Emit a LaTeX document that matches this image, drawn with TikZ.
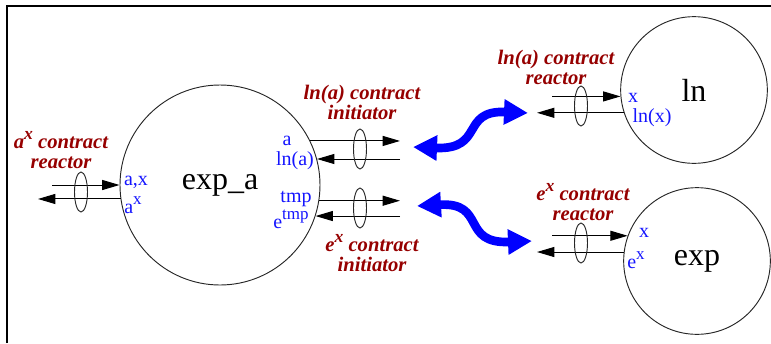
\documentclass[tikz,border=0pt]{standalone}
\usepackage{fontspec}
\setmainfont{Liberation Serif}
\usetikzlibrary{arrows.meta,shapes.geometric}
\definecolor{dred}{RGB}{150,0,0}
\definecolor{lblue}{RGB}{20,20,255}
\newcommand\supx[1]{\raisebox{0.42em}{\scalebox{0.85}{#1}}}
\begin{document}
\begin{tikzpicture}[x=0.75pt,y=-0.75pt,
  proc/.style={circle,draw=black!85,line width=0.7pt,inner sep=0pt,font=\fontsize{24}{26}\selectfont},
  ring/.style={ellipse,draw=black!85,line width=0.7pt,inner sep=0pt,minimum width=9.75pt,minimum height=30pt},
  msg/.style={draw=black,line width=0.75pt,-{Triangle[length=13pt,width=7.5pt]}},
  port/.style={text=lblue,font=\fontsize{15}{15}\selectfont,inner sep=0pt,anchor=base},
  role/.style={text=dred,font=\bfseries\itshape\fontsize{15.5}{15}\selectfont,align=center,inner sep=0pt},
  link/.style={draw=blue,line width=6.5pt,{Triangle[length=18pt,width=18pt]}-{Triangle[length=18pt,width=18pt]}}
]
\useasboundingbox (0,0) rectangle (771,343);
% frame
\draw[line width=1.5pt] (7,343) -- (7,6) -- (771,6);

% processes
\node[proc,minimum size=150pt] (expa) at (220,185) {exp\_a};
\node[proc,minimum size=110pt] (ln) at (694,90) {ln};
\node[proc,minimum size=110pt] (exp) at (697,261) {exp};

% free ends
\coordinate (lL) at (52,0);
\coordinate (lL2) at (38,0);
\coordinate (iR) at (400,0);
\coordinate (rL) at (552,0);
\coordinate (rL2) at (537,0);

% left reactor (a^x)
\draw[msg] (expa.180 -| lL) -- (expa.180);
\draw[msg] (expa.188.6) -- (expa.188.6 -| lL2);
\node[ring] (ring1) at (81,192) {};

% ln(a) initiator
\draw[msg] (expa.26.1) -- (expa.26.1 -| iR);
\draw[msg] (expa.15.7 -| iR) -- (expa.15.7);
\node[ring] (ring2) at (360,149) {};

% e^x initiator
\draw[msg] (expa.-9.2) -- (expa.-9.2 -| iR);
\draw[msg] (expa.-18.7 -| iR) -- (expa.-18.7);
\node[ring] (ring3) at (360,208) {};

% ln reactor
\draw[msg] (ln.185.5 -| rL) -- (ln.185.5);
\draw[msg] (ln.198.2) -- (ln.198.2 -| rL2);
\node[ring] (ring4) at (581,106) {};

% exp reactor
\draw[msg] (exp.160.9 -| rL) -- (exp.160.9);
\draw[msg] (exp.173) -- (exp.173 -| rL2);
\node[ring] (ring5) at (581,243) {};

% blue links
\coordinate (u1) at (413,147);
\coordinate (u2) at (528,113);
\draw[link] (u1) .. controls (485,150) and (460,110) .. (u2);
\coordinate (d1) at (417,206);
\coordinate (d2) at (532,241);
\draw[link] (d1) .. controls (487,202) and (460,244) .. (d2);

% port labels
\node[port] (p1) at (136,185) {a,x};
\node[port] (p2) at (133,213) {a\supx{x}};
\node[port] (p3) at (287,145) {a};
\node[port] (p4) at (295,165) {ln(a)};
\node[port] (p5) at (296,202) {tmp};
\node[port] (p6) at (291,228) {e\supx{tmp}};
\node[port] (p7) at (633,102) {x};
\node[port] (p8) at (652,122) {ln(x)};
\node[port] (p9) at (644,237) {x};
\node[port] (p10) at (636,268) {e\supx{x}};

% role labels
\node[role] (r1) at (61,150) {a\supx{x} contract\\reactor};
\node[role] (r2) at (362,102) {ln(a) contract\\initiator};
\node[role] (r3) at (372,253) {e\supx{x} contract\\initiator};
\node[role] (r4) at (556,67) {ln(a) contract\\reactor};
\node[role] (r5) at (583,202) {e\supx{x} contract\\reactor};
\end{tikzpicture}
\end{document}
